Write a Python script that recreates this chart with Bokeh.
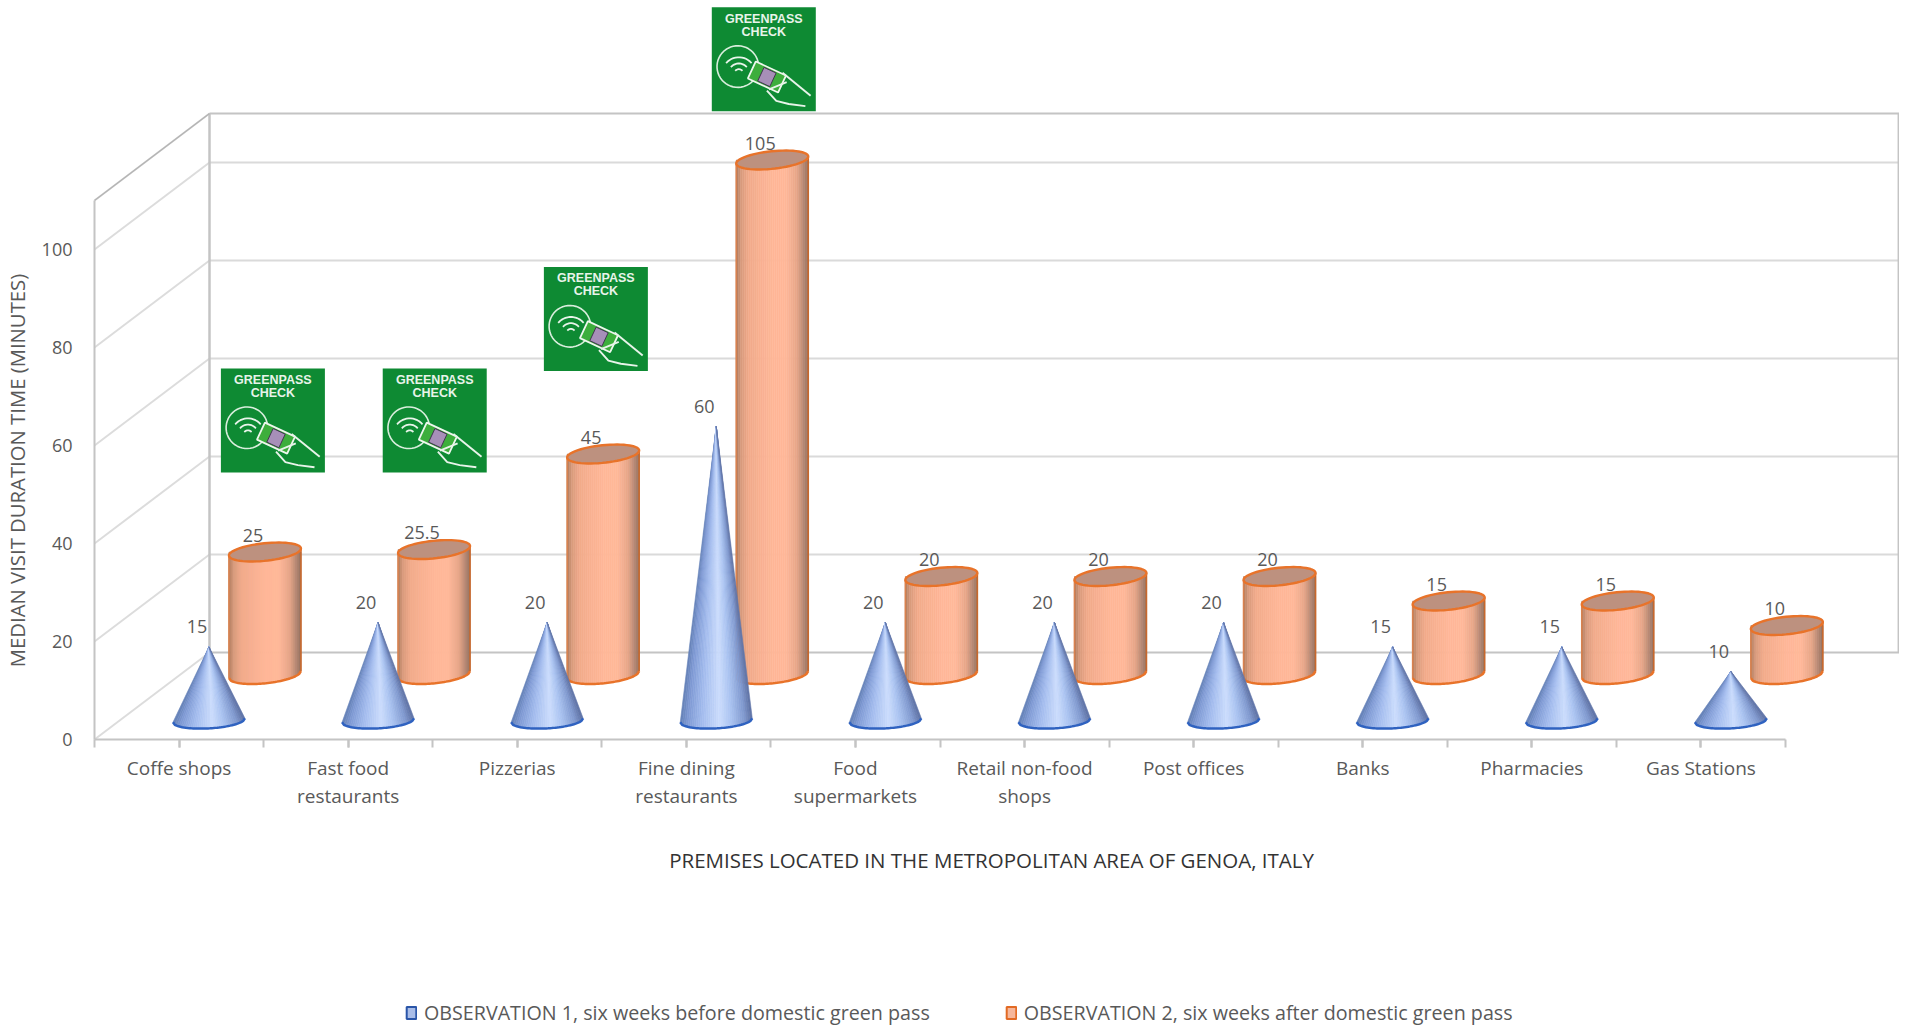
#Recreating the median visit duration chart with cones and cylinders

import numpy as np

from bokeh.core.properties import value
from bokeh.embed import file_html
from bokeh.models import FixedTicker, Legend, LegendItem
from bokeh.plotting import figure
from bokeh.resources import INLINE

#Chart values

categories = ["Coffe shops", "Fast food\nrestaurants", "Pizzerias", "Fine dining\nrestaurants",
              "Food\nsupermarkets", "Retail non-food\nshops", "Post offices", "Banks",
              "Pharmacies", "Gas Stations"]
observation_1 = [15, 20, 20, 60, 20, 20, 20, 15, 15, 10]
observation_2 = [25, 25.5, 45, 105, 20, 20, 20, 15, 15, 10]
y_ticks = [0, 20, 40, 60, 80, 100]
wall_top = 110

#Which categories carry a green pass badge, and where it sits (category axis, minutes)

badge_x = [1.055, 2.012, 2.965, 3.958]
badge_y = [54.5, 54.5, 75.2, 128.2]

#The drawing scale of the picture: pixels for one category and for one minute
#The frame fills the page, so the titles and the legend outside the walls are not clipped away

cat_px = 169.1
min_px = 4.9
x_start = -94 / cat_px
x_end = 1805 / cat_px
y_start = -289 / min_px
y_end = 739 / min_px

#The oblique 3D look: how far the back wall is moved from the front plane

depth_x = 115 / cat_px
depth_y = 87 / min_px
cone_depth_x = 0.26
cone_depth_y = 0.22
cyl_depth = 0.747

radius_x = 36 / cat_px
cone_ry = 8 / min_px
cyl_ry = 8.8 / min_px
cone_tilt = 2 / min_px
cyl_tilt = 3.5 / min_px

cone_stops = [(0, "#6480b6"), (0.1, "#7f9ad4"), (0.3, "#a3bcee"), (0.55, "#cbdcfc"),
              (0.72, "#a9c2f0"), (0.9, "#7f98ce"), (1, "#5e72a4")]
cyl_stops = [(0, "#ad7a5e"), (0.07, "#d99b7d"), (0.18, "#f2ab8b"), (0.5, "#ffb798"),
             (0.7, "#ffb899"), (0.85, "#e6a588"), (0.95, "#b08470"), (1, "#967260")]

TEXT_FONT = "Open Sans"
TEXT_COLOR = "#595959"
WALL_COLOR = "#c4c4c4"


def shade(stops, u):
    #Pick a colour between the stops
    pos = [s[0] for s in stops]
    rgb = [[int(s[1][k:k + 2], 16) for s in stops] for k in (1, 3, 5)]
    return "#%02x%02x%02x" % tuple(int(round(np.interp(u, pos, c))) for c in rgb)


def front_arc(cx, cy, ry, tilt, t):
    #Lower half of the tilted ellipse, t runs from -1 (left) to 1 (right)
    return cx + radius_x * t, cy - ry * np.sqrt(np.clip(1 - t ** 2, 0, 1)) + tilt * t


def full_ellipse(cx, cy, ry, tilt):
    a = np.linspace(0, 2 * np.pi, 60)
    return cx + radius_x * np.cos(a), cy + ry * np.sin(a) + tilt * np.cos(a)


#Creating the figure of the plot

p = figure(width=1899, height=1028, output_backend="svg", toolbar_location=None,
           x_range=(x_start, x_end), y_range=(y_start, y_end), min_border=0)
p.outline_line_color = None
p.grid.visible = False

#Axes, both sit inside the frame at zero

xa = p.xaxis[0]
xa.fixed_location = 0
xa.ticker = FixedTicker(ticks=[i + 0.5 for i in range(10)], minor_ticks=[i * 0.5 for i in range(21)])
xa.major_label_overrides = {i + 0.5: c for i, c in enumerate(categories)}
xa.bounds = (0, 10)
xa.axis_line_color = WALL_COLOR
xa.axis_line_width = 2
xa.major_tick_line_color = WALL_COLOR
xa.minor_tick_line_color = WALL_COLOR
xa.major_tick_line_width = 2
xa.minor_tick_line_width = 2
xa.major_tick_in = 0
xa.minor_tick_in = 0
xa.major_tick_out = 8
xa.minor_tick_out = 8
xa.major_label_standoff = 7
xa.major_label_text_font = TEXT_FONT
xa.major_label_text_font_size = "19px"
xa.major_label_text_color = TEXT_COLOR
xa.major_label_text_line_height = 1.08

ya = p.yaxis[0]
ya.fixed_location = 0
ya.ticker = FixedTicker(ticks=y_ticks)
ya.bounds = (0, wall_top)
ya.axis_line_color = WALL_COLOR
ya.axis_line_width = 2
ya.major_tick_line_color = None
ya.minor_tick_line_color = None
ya.major_tick_in = 0
ya.major_tick_out = 0
ya.major_label_standoff = 22
ya.major_label_text_font = TEXT_FONT
ya.major_label_text_font_size = "18px"
ya.major_label_text_color = TEXT_COLOR

#Axis titles

p.text([-0.46], [54.9], text=["MEDIAN VISIT DURATION TIME (MINUTES)"], angle=np.pi / 2,
       text_font=value(TEXT_FONT), text_font_size="20.3px", text_color=TEXT_COLOR,
       text_align="center", text_baseline="middle")
p.text([5.305], [-24.5], text=["PREMISES LOCATED IN THE METROPOLITAN AREA OF GENOA, ITALY"],
       text_font=value(TEXT_FONT), text_font_size="20.5px", text_color="#333333",
       text_align="center", text_baseline="middle")

#Walls: side lines running back, then the lines along the back wall

levels = y_ticks + [wall_top]
p.multi_line([[0, depth_x] for v in levels], [[v, v + depth_y] for v in levels],
             line_color="#dcdcdc", line_width=2)
p.multi_line([[depth_x, depth_x + 10] for v in levels], [[v + depth_y, v + depth_y] for v in levels],
             line_color=["#c4c4c4"] + ["#dadada"] * 5 + ["#c4c4c4"], line_width=2)
p.multi_line([[depth_x, depth_x], [depth_x + 9.99, depth_x + 9.99]],
             [[depth_y, wall_top + depth_y], [depth_y, wall_top + depth_y]],
             line_color=WALL_COLOR, line_width=2.5)
p.line([0, depth_x], [wall_top, wall_top + depth_y], line_color="#b4b4b4", line_width=1.5)

#Cylinders, made of thin vertical strips to get the shading

edges = np.linspace(-1, 1, 37)
for i, v in enumerate(observation_2):
    cx = i + 0.5 + depth_x * cyl_depth
    cy = depth_y * cyl_depth
    xs, ys, cols = [], [], []
    for a, b in zip(edges[:-1], edges[1:]):
        xa0, ya0 = front_arc(cx, cy, cyl_ry, cyl_tilt, a)
        xb0, yb0 = front_arc(cx, cy, cyl_ry, cyl_tilt, b)
        xs.append([xa0, xb0, xb0, xa0])
        ys.append([ya0, yb0, cy + v, cy + v])
        cols.append(shade(cyl_stops, (a + b + 2) / 4))
    p.patches(xs, ys, fill_color=cols, line_color=cols, line_width=0.6)
    arc_t = np.linspace(-1, 1, 40)
    ax, ay = front_arc(cx, cy, cyl_ry, cyl_tilt, arc_t)
    p.line(ax, ay, line_color="#e8732a", line_width=2.5)
    p.multi_line([[cx - radius_x, cx - radius_x], [cx + radius_x, cx + radius_x]],
                 [[cy - cyl_tilt, cy + v - cyl_tilt], [cy + cyl_tilt, cy + v + cyl_tilt]],
                 line_color=["#d9824f", "#c8682c"], line_width=1.6)
    tx, ty = full_ellipse(cx, cy + v, cyl_ry, cyl_tilt)
    p.patch(tx, ty, fill_color="#bd917f", line_color="#e8732a", line_width=2.4)

#Cones, made of thin triangles from the apex to the base

for i, v in enumerate(observation_1):
    cx = i + 0.5 + depth_x * cone_depth_x
    cy = depth_y * cone_depth_y
    xs, ys, cols = [], [], []
    for a, b in zip(edges[:-1], edges[1:]):
        xa0, ya0 = front_arc(cx, cy, cone_ry, cone_tilt, a)
        xb0, yb0 = front_arc(cx, cy, cone_ry, cone_tilt, b)
        xs.append([xa0, xb0, cx])
        ys.append([ya0, yb0, cy + v])
        cols.append(shade(cone_stops, (a + b + 2) / 4))
    p.patches(xs, ys, fill_color=cols, line_color=cols, line_width=0.6)
    arc_t = np.linspace(-1, 1, 40)
    ax, ay = front_arc(cx, cy, cone_ry, cone_tilt, arc_t)
    p.line(ax, ay, line_color="#2f62c0", line_width=2.5)

#Data labels above the marks

p.text([i + 0.5 + depth_x * cone_depth_x for i in range(10)],
       [depth_y * cone_depth_y + v for v in observation_1],
       text=[str(v) for v in observation_1], x_offset=-12, y_offset=-20,
       text_font=value(TEXT_FONT), text_font_size="18px", text_color=TEXT_COLOR,
       text_align="center", text_baseline="middle")
p.text([i + 0.5 + depth_x * cyl_depth for i in range(10)],
       [depth_y * cyl_depth + v for v in observation_2],
       text=[str(v) for v in observation_2], x_offset=-12, y_offset=-17,
       text_font=value(TEXT_FONT), text_font_size="18px", text_color=TEXT_COLOR,
       text_align="center", text_baseline="middle")

#Green pass badges, u and v are fractions of the badge (v from the top)

bw = 104 / cat_px
bh = 104 / min_px
for bx0, by0 in zip(badge_x, badge_y):
    def ux(u):
        return bx0 - bw / 2 + bw * np.asarray(u, dtype=float)

    def vy(v):
        return by0 + bh - bh * np.asarray(v, dtype=float)

    p.quad(left=ux(0), right=ux(1), bottom=vy(1), top=vy(0), fill_color="#0e8a33", line_color=None)
    p.text([ux(0.5), ux(0.5)], [vy(0.11), vy(0.235)], text=["GREENPASS", "CHECK"],
           text_font=value("Liberation Sans"), text_font_style="bold", text_font_size="12.5px",
           text_color="#e8f4ea", text_align="center", text_baseline="middle")

    a = np.linspace(0, 2 * np.pi, 50)
    p.line(ux(0.25 + 0.2 * np.cos(a)), vy(0.57 + 0.2 * np.sin(a)), line_color="#d9eedd", line_width=1.6)
    for r in [0.045, 0.1, 0.16]:
        t = np.radians(np.linspace(40, 140, 14))
        p.line(ux(0.26 + r * np.cos(t)), vy(0.64 - r * np.sin(t)), line_color="#e8f4ea", line_width=1.8)

    ang = np.radians(25)
    corners_u = np.array([-0.16, 0.16, 0.16, -0.16])
    corners_v = np.array([-0.09, -0.09, 0.09, 0.09])
    cu = 0.53 + corners_u * np.cos(ang) - corners_v * np.sin(ang)
    cv = 0.67 + corners_u * np.sin(ang) + corners_v * np.cos(ang)
    p.patch(ux(cu), vy(cv), fill_color="#3dae3c", line_color="#eef7ee", line_width=1.8)
    pu = 0.53 + 0.4 * corners_u * np.cos(ang) - 0.8 * corners_v * np.sin(ang)
    pv = 0.67 + 0.4 * corners_u * np.sin(ang) + 0.8 * corners_v * np.cos(ang)
    p.patch(ux(pu), vy(pv), fill_color="#a78fb8", line_color="#3b2a4a", line_width=0.9)
    p.multi_line([list(ux([0.68, 0.95])), list(ux([0.53, 0.62, 0.74, 0.9])), list(ux([0.55, 0.72]))],
                 [list(vy([0.63, 0.85])), list(vy([0.8, 0.9, 0.93, 0.95])), list(vy([0.79, 0.72]))],
                 line_color="#e8f4ea", line_width=1.9)

#Legend under the chart, the nan quads draw nothing and only give it the swatch style

sw1 = p.quad(left=[np.nan], right=[np.nan], top=[np.nan], bottom=[np.nan],
             fill_color="#a9bde8", line_color="#2a55a8", line_width=2)
sw2 = p.quad(left=[np.nan], right=[np.nan], top=[np.nan], bottom=[np.nan],
             fill_color="#f6b79b", line_color="#e26a24", line_width=2)
legend = Legend(items=[LegendItem(label="OBSERVATION 1, six weeks before domestic green pass", renderers=[sw1]),
                       LegendItem(label="OBSERVATION 2, six weeks after domestic green pass", renderers=[sw2])],
                orientation="horizontal", location=(405, 2), padding=0, margin=0, spacing=75,
                glyph_width=12, glyph_height=15, label_standoff=7, label_height=20,
                background_fill_alpha=0, border_line_color=None,
                label_text_font=TEXT_FONT, label_text_font_size="19.7px", label_text_color=TEXT_COLOR)
p.add_layout(legend, "center")

open("out.html", "w").write(file_html(p, INLINE))
